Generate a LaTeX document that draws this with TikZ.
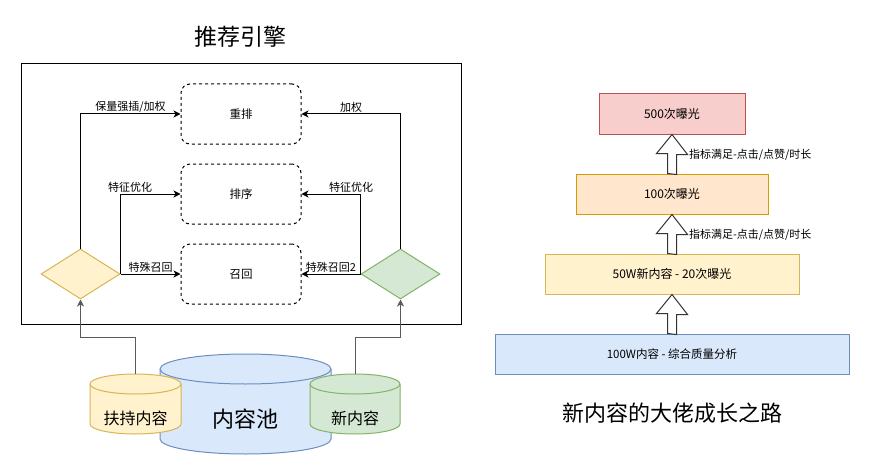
\documentclass[tikz,border=0pt]{standalone}
\usepackage{fontspec}
\setmainfont{Noto Sans CJK SC}
\usepackage{xcolor}
\usetikzlibrary{arrows.meta, shapes.geometric, calc}

\definecolor{fyellow}{HTML}{FFF2CC}
\definecolor{syellow}{HTML}{D6B656}
\definecolor{fgreen}{HTML}{D5E8D4}
\definecolor{sgreen}{HTML}{82B366}
\definecolor{fblue}{HTML}{DAE8FC}
\definecolor{sblue}{HTML}{6C8EBF}
\definecolor{fred}{HTML}{F8CECC}
\definecolor{sred}{HTML}{B85450}
\definecolor{forange}{HTML}{FFE6CC}
\definecolor{sorange}{HTML}{D79B00}
\definecolor{feedgray}{HTML}{5A5A5A}

% #1 centre x, #2 top y, #3 x radius, #4 y radius, #5 height, #6 fill, #7 stroke
\newcommand{\poolcyl}[7]{%
    \filldraw[fill=#6, draw=#7] (#1-#3, #2-#4) -- (#1-#3, #2-#5+#4)
        arc[start angle=180, end angle=360, x radius=#3, y radius=#4]
        -- (#1+#3, #2-#4)
        arc[start angle=0, end angle=180, x radius=#3, y radius=#4] -- cycle;
    \draw[#7] (#1-#3, #2-#4) arc[start angle=180, end angle=360, x radius=#3, y radius=#4];
}

\begin{document}
\begin{tikzpicture}[x=1pt, y=1pt, line width=1pt,
    stage/.style={draw, dashed, dash pattern=on 3pt off 3pt, rounded corners=9pt, minimum width=120pt, minimum height=60pt, font=\fontsize{11.5}{13}\selectfont},
    gate/.style={diamond, draw, inner sep=0pt, minimum width=79pt, minimum height=50pt},
    level/.style={draw, minimum height=40pt, inner sep=0pt, font=\fontsize{12}{14}\selectfont},
    link/.style={-{Stealth[length=7pt, width=7pt, inset=2pt]}},
    feed/.style={link, draw=feedgray},
    lbl/.style={font=\fontsize{11}{13}\selectfont, inner sep=1.5pt},
    barrow/.style={draw=black!80, fill=white, line width=1pt, line join=miter}]
    \useasboundingbox (0,0) rectangle (870,475);

    % recommendation engine
    \node[font=\fontsize{23}{26}\selectfont] at (240, 438) (engtitle) {推荐引擎};
    \draw (21, 151) rectangle (461, 411);

    \node[stage] at (241, 361) (rerank) {重排};
    \node[stage] at (241, 281) (rank) {排序};
    \node[stage] at (241, 201) (recall) {召回};

    \node[gate, fill=fyellow, draw=syellow] at (80.5, 201) (lgate) {};
    \node[gate, fill=fgreen, draw=sgreen] at (400.5, 201) (rgate) {};

    \draw[link] (lgate.north) |- node[lbl, pos=0.75, above] {保量强插/加权} (rerank.west);
    \draw[link] (lgate.east) |- node[lbl, pos=0.58, above] {特征优化} (rank.west);
    \draw[link] (lgate.east) -- node[lbl, above] {特殊召回} (recall.west);

    \draw[link] (rgate.north) |- node[lbl, pos=0.75, above] {加权} (rerank.east);
    \draw[link] (rgate.west) |- node[lbl, pos=0.58, above] {特征优化} (rank.east);
    \draw[link] (rgate.west) -- node[lbl, above] {特殊召回2} (recall.east);

    % content pools
    \poolcyl{245.5}{121}{85.5}{15}{100}{fblue}{sblue}
    \poolcyl{135.5}{101}{45.5}{10}{60}{fyellow}{syellow}
    \poolcyl{355}{101}{45}{10}{60}{fgreen}{sgreen}
    \coordinate (boost) at (135.5, 101);
    \coordinate (fresh) at (355, 101);
    \node[font=\fontsize{22}{26}\selectfont] at (245.5, 56) (pooltext) {内容池};
    \node[font=\fontsize{16}{19}\selectfont] at (135.5, 57) (boosttext) {扶持内容};
    \node[font=\fontsize{16}{19}\selectfont] at (355, 57) (freshtext) {新内容};

    \draw[feed] (boost) -- ++(0,37) -| (lgate.south);
    \draw[feed] (fresh) -- ++(0,37) -| (rgate.south);

    % growth path of new content
    \node[level, fill=fred, draw=sred, minimum width=146pt] at (672, 361) (q500) {500次曝光};
    \node[level, fill=forange, draw=sorange, minimum width=192pt] at (672, 281) (q100) {100次曝光};
    \node[level, fill=fyellow, draw=syellow, minimum width=254pt] at (672, 201) (q50w) {50W新内容 - 20次曝光};
    \node[level, fill=fblue, draw=sblue, minimum width=354pt, font=\fontsize{11.5}{14}\selectfont] at (672, 121) (q100w) {100W内容 - 综合质量分析};

    \draw[barrow] ($(q100w.north)+(-4.5,0)$) -- ++(0,20) -- ++(-11,0) -- (q50w.south) -- ++(15.5,-20) -- ++(-11,0) -- ++(0,-20) -- cycle;
    \draw[barrow] ($(q50w.north)+(-4.5,0)$) -- ++(0,20) -- ++(-11,0) -- (q100.south) -- ++(15.5,-20) -- ++(-11,0) -- ++(0,-20) -- cycle;
    \draw[barrow] ($(q100.north)+(-4.5,0)$) -- ++(0,20) -- ++(-11,0) -- (q500.south) -- ++(15.5,-20) -- ++(-11,0) -- ++(0,-20) -- cycle;

    \node[lbl, anchor=west] at (687, 320) (cond1) {指标满足-点击/点赞/时长};
    \node[lbl, anchor=west] at (687, 240) (cond2) {指标满足-点击/点赞/时长};

    \node[font=\fontsize{22}{26}\selectfont] at (672, 62) (pathtitle) {新内容的大佬成长之路};
\end{tikzpicture}
\end{document}
